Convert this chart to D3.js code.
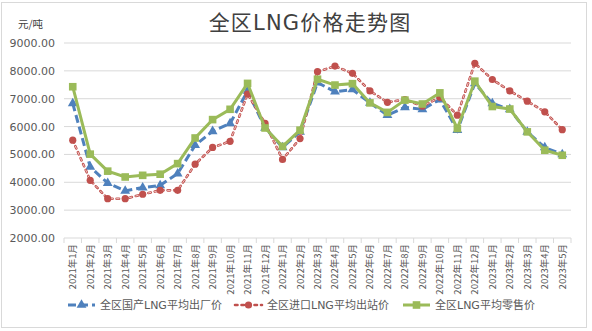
<!DOCTYPE html>
<html>
<head>
<meta charset="utf-8">
<script src="https://cdn.jsdelivr.net/npm/d3@7"></script>
<style>
  html, body { margin: 0; padding: 0; background: #ffffff; }
  svg { display: block; }
</style>
</head>
<body>
<div id="chart"></div>
<script>
// Monthly categories, 2021-01 .. 2023-05
const months = [
  "2021年1月","2021年2月","2021年3月","2021年4月","2021年5月","2021年6月",
  "2021年7月","2021年8月","2021年9月","2021年10月","2021年11月","2021年12月",
  "2022年1月","2022年2月","2022年3月","2022年4月","2022年5月","2022年6月",
  "2022年7月","2022年8月","2022年9月","2022年10月","2022年11月","2022年12月",
  "2023年1月","2023年2月","2023年3月","2023年4月","2023年5月"
];

// 全区国产LNG平均出厂价 (元/吨)
const domestic = [6830, 4550, 3970, 3690, 3810, 3890, 4310, 5330, 5830, 6110,
  7280, 5950, 5250, 5810, 7580, 7250, 7330, 6850, 6410, 6690,
  6620, 6970, 5870, 7550, 6830, 6620, 5810, 5250, 5000];

// 全区进口LNG平均出站价 (元/吨)
const imported = [5510, 4070, 3410, 3410, 3570, 3710, 3710, 4650, 5250, 5470,
  7170, 6120, 4820, 5570, 7970, 8170, 7910, 7280, 6870, 6970,
  6730, 7050, 6410, 8270, 7690, 7280, 6910, 6530, 5890];

// 全区LNG平均零售价 (元/吨)
const retail = [7430, 5010, 4400, 4190, 4250, 4290, 4670, 5590, 6250, 6620,
  7550, 5950, 5290, 5870, 7700, 7490, 7540, 6850, 6510, 6950,
  6810, 7210, 5930, 7630, 6720, 6630, 5810, 5150, 4970];

const yTicks = [2000, 3000, 4000, 5000, 6000, 7000, 8000, 9000];
const seriesNames = ["全区国产LNG平均出厂价", "全区进口LNG平均出站价", "全区LNG平均零售价"];

const W = 592, H = 331;
const plot = { left: 64, right: 571, top: 43, bottom: 238 };
const mixedFont = "'DejaVu Sans', 'Noto Sans CJK SC', sans-serif";

const svg = d3.select("#chart").append("svg")
  .attr("width", W).attr("height", H);

// chart frame
svg.append("rect")
  .attr("x", 1.5).attr("y", 2.5).attr("width", 585).attr("height", 325)
  .attr("fill", "#ffffff").attr("stroke", "#d9d9d9").attr("stroke-width", 1);

const x = d3.scaleBand().domain(months).range([plot.left, plot.right]);
const y = d3.scaleLinear().domain([2000, 9000]).range([plot.bottom, plot.top]);
const cx = d => x(d) + x.bandwidth() / 2;

// title
svg.append("text")
  .attr("x", 310).attr("y", 30)
  .attr("text-anchor", "middle")
  .attr("font-family", mixedFont)
  .attr("font-size", 21)
  .attr("letter-spacing", 1.2)
  .attr("fill", "#404040")
  .text("全区LNG价格走势图");

// unit label
svg.append("text")
  .attr("x", 18).attr("y", 28)
  .attr("font-family", "'Noto Sans CJK SC', sans-serif")
  .attr("font-size", 10.5)
  .attr("fill", "#404040")
  .text("元/吨");

// gridlines
svg.append("g")
  .selectAll("line")
  .data(yTicks.slice(1))
  .join("line")
  .attr("x1", plot.left).attr("x2", plot.right)
  .attr("y1", d => y(d)).attr("y2", d => y(d))
  .attr("stroke", "#d9d9d9").attr("stroke-width", 1);

// y axis labels
const yAxis = d3.axisLeft(y).tickValues(yTicks).tickFormat(d3.format(".2f")).tickSize(0).tickPadding(9);
const gy = svg.append("g").attr("transform", `translate(${plot.left},0)`).call(yAxis);
gy.select(".domain").remove();
gy.selectAll("text")
  .attr("font-family", "'DejaVu Sans', sans-serif")
  .attr("font-size", 11)
  .attr("fill", "#595959");

// x axis: line with ticks between categories
const xAxisG = svg.append("g").attr("transform", `translate(0,${plot.bottom})`);
xAxisG.append("line")
  .attr("x1", plot.left).attr("x2", plot.right)
  .attr("stroke", "#d9d9d9").attr("stroke-width", 1);
const bounds = months.map(m => x(m)).concat([plot.right]);
xAxisG.selectAll("line.tick")
  .data(bounds)
  .join("line")
  .attr("class", "tick")
  .attr("x1", d => d).attr("x2", d => d)
  .attr("y1", 0).attr("y2", 5)
  .attr("stroke", "#d9d9d9");
xAxisG.selectAll("text")
  .data(months)
  .join("text")
  .attr("transform", d => `translate(${cx(d) + 3.5},6) rotate(-90)`)
  .attr("text-anchor", "end")
  .attr("font-family", "'Noto Sans CJK SC', sans-serif")
  .attr("font-size", 9.5)
  .attr("fill", "#595959")
  .text(d => d);

const line = d3.line().x((d, i) => cx(months[i])).y(d => y(d));

const blue = "#4f81bd", red = "#c0504d", green = "#9bbb59";

// domestic: dashed blue with triangles
svg.append("path")
  .datum(domestic)
  .attr("d", line)
  .attr("fill", "none")
  .attr("stroke", blue).attr("stroke-width", 3)
  .attr("stroke-dasharray", "8,4");
const tri = d3.symbol().type(d3.symbolTriangle).size(42);
svg.append("g").selectAll("path")
  .data(domestic)
  .join("path")
  .attr("d", tri)
  .attr("transform", (d, i) => `translate(${cx(months[i])},${y(d)})`)
  .attr("fill", blue);

// imported: dotted red with circles
svg.append("path")
  .datum(imported)
  .attr("d", line)
  .attr("fill", "none")
  .attr("stroke", red).attr("stroke-width", 2.6)
  .attr("stroke-linecap", "round")
  .attr("stroke-dasharray", "2.5,4");
svg.append("path")
  .datum(imported)
  .attr("d", line)
  .attr("fill", "none")
  .attr("stroke", "#f2c8c7").attr("stroke-width", 1)
  .attr("stroke-linecap", "round")
  .attr("stroke-dasharray", "2.5,4");
svg.append("g").selectAll("circle")
  .data(imported)
  .join("circle")
  .attr("cx", (d, i) => cx(months[i]))
  .attr("cy", d => y(d))
  .attr("r", 3.6)
  .attr("fill", red);

// retail: solid green with squares
svg.append("path")
  .datum(retail)
  .attr("d", line)
  .attr("fill", "none")
  .attr("stroke", green).attr("stroke-width", 3);
svg.append("g").selectAll("rect")
  .data(retail)
  .join("rect")
  .attr("x", (d, i) => cx(months[i]) - 3.8)
  .attr("y", d => y(d) - 3.8)
  .attr("width", 7.6).attr("height", 7.6)
  .attr("fill", green);

// legend
const legend = [
  { name: seriesNames[0], color: blue, x: 68, dash: "8,4", marker: "tri" },
  { name: seriesNames[1], color: red, x: 235, dash: "2.5,4", marker: "circle" },
  { name: seriesNames[2], color: green, x: 403, dash: null, marker: "rect" }
];
const lg = svg.append("g").attr("transform", "translate(0,305)");
legend.forEach(item => {
  const g = lg.append("g");
  g.append("line")
    .attr("x1", item.x).attr("x2", item.x + 27)
    .attr("stroke", item.color)
    .attr("stroke-width", item.marker === "circle" ? 2.6 : 3)
    .attr("stroke-linecap", item.marker === "circle" ? "round" : "butt")
    .attr("stroke-dasharray", item.dash);
  const mx = item.x + 13.5;
  if (item.marker === "tri") {
    g.append("path").attr("d", tri).attr("transform", `translate(${mx},0)`).attr("fill", item.color);
  } else if (item.marker === "circle") {
    g.append("circle").attr("cx", mx).attr("cy", 0).attr("r", 3.6).attr("fill", item.color);
  } else {
    g.append("rect").attr("x", mx - 3.8).attr("y", -3.8).attr("width", 7.6).attr("height", 7.6).attr("fill", item.color);
  }
  g.append("text")
    .attr("x", item.x + 32).attr("y", 4)
    .attr("font-family", mixedFont)
    .attr("font-size", 11)
    .attr("fill", "#595959")
    .text(item.name);
});
</script>
</body>
</html>
